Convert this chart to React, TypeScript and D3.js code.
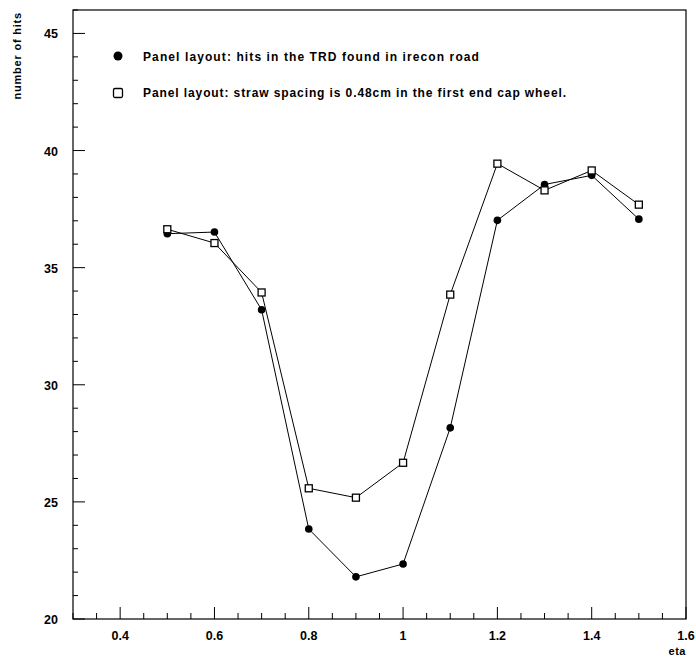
import React from 'react';
import * as d3 from 'd3';

// values
const eta = [0.5, 0.6, 0.7, 0.8, 0.9, 1.0, 1.1, 1.2, 1.3, 1.4, 1.5];
const hitsIrecon = [36.45, 36.52, 33.2, 23.84, 21.8, 22.35, 28.16, 37.02, 38.55, 38.94, 37.07];
const hitsStraw = [36.64, 36.05, 33.94, 25.58, 25.18, 26.67, 33.85, 39.44, 38.3, 39.15, 37.69];
const xTickLabels = [0.4, 0.6, 0.8, 1, 1.2, 1.4, 1.6];
const yTickLabels = [20, 25, 30, 35, 40, 45];
const legendLabels = [
  'Panel layout: hits in the TRD found in irecon road',
  'Panel layout: straw spacing is 0.48cm in the first end cap wheel.',
];

const W = 696;
const H = 657;
const margin = { top: 10, right: 10, bottom: 38, left: 73 };
const font = 'Liberation Sans, Arial, Helvetica, sans-serif';

export default function App() {
  const x = d3.scaleLinear().domain([0.3, 1.6]).range([margin.left, W - margin.right]);
  const y = d3.scaleLinear().domain([20, 46]).range([H - margin.bottom, margin.top]);

  const line = d3
    .line<number>()
    .x((_, i) => x(eta[i]))
    .y((d) => y(d));

  const xMinor = d3.range(0.3, 1.6001, 0.05).map((v) => +v.toFixed(2));
  const yMinor = d3.range(20, 46.001, 1);
  const x0 = x.range()[0];
  const y0 = y.range()[0];

  return (
    <svg
      width={W}
      height={H}
      style={{ position: 'absolute', left: 0, top: 0, background: '#fff' }}
      fontFamily={font}
      fontWeight="bold"
    >
      {/* frame */}
      <rect
        x={x0}
        y={margin.top}
        width={x.range()[1] - x0}
        height={y0 - margin.top}
        fill="none"
        stroke="#000"
        strokeWidth={1.2}
      />

      {/* x ticks */}
      {xMinor.map((v) => {
        const major = xTickLabels.some((t) => Math.abs(t - v) < 1e-6);
        return (
          <line key={'xt' + v} x1={x(v)} x2={x(v)} y1={y0} y2={y0 - (major ? 12 : 6)} stroke="#000" strokeWidth={1} />
        );
      })}
      {xTickLabels.map((v) => (
        <text key={'xl' + v} x={x(v)} y={y0 + 21} fontSize={12.5} textAnchor="middle">
          {v}
        </text>
      ))}
      <text x={W - 10} y={H - 2} fontSize={11} textAnchor="end" letterSpacing={0.5}>
        eta
      </text>

      {/* y ticks */}
      {yMinor.map((v) => {
        const major = v % 5 === 0;
        return (
          <line key={'yt' + v} x1={x0} x2={x0 + (major ? 12 : 5)} y1={y(v)} y2={y(v)} stroke="#000" strokeWidth={1} />
        );
      })}
      {yTickLabels.map((v) => (
        <text key={'yl' + v} x={x0 - 15} y={y(v) + 5} fontSize={12.5} textAnchor="end">
          {v}
        </text>
      ))}
      <text transform="translate(21,12) rotate(-90)" fontSize={11} textAnchor="end" letterSpacing={0.8}>
        number of hits
      </text>

      {/* series */}
      <path d={line(hitsIrecon) ?? ''} fill="none" stroke="#000" strokeWidth={1} />
      <path d={line(hitsStraw) ?? ''} fill="none" stroke="#000" strokeWidth={1} />
      {hitsIrecon.map((v, i) => (
        <circle key={'f' + i} cx={x(eta[i])} cy={y(v)} r={3.8} fill="#000" />
      ))}
      {hitsStraw.map((v, i) => (
        <rect key={'o' + i} x={x(eta[i]) - 3.5} y={y(v) - 3.5} width={7} height={7} fill="#fff" stroke="#000" strokeWidth={1.3} />
      ))}

      {/* legend */}
      <circle cx={118} cy={56} r={4.5} fill="#000" />
      <text x={143} y={60.5} fontSize={12} letterSpacing={1.1}>
        {legendLabels[0]}
      </text>
      <rect x={113.5} y={88.5} width={9} height={9} rx={1.5} fill="#fff" stroke="#000" strokeWidth={1.3} />
      <text x={143} y={97} fontSize={12} letterSpacing={0.9}>
        {legendLabels[1]}
      </text>
    </svg>
  );
}
